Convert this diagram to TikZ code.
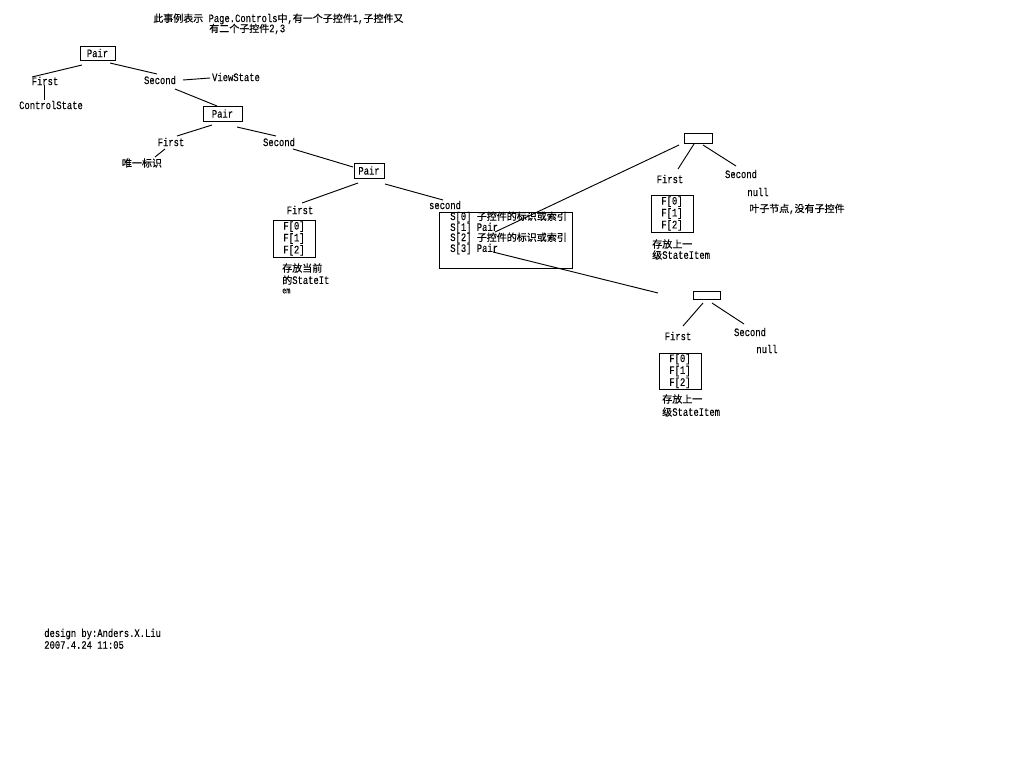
\documentclass[tikz,border=0pt]{standalone}
\usepackage{fontspec}
\newfontfamily\monofnt[FakeStretch=0.78,FakeBold=0.15]{Liberation Mono}
\newfontfamily\cjkfnt[FakeBold=0.3]{Noto Sans CJK SC}
\newcommand\zh[1]{{\cjkfnt\fontsize{7.5}{8}\selectfont #1}}
\begin{document}
\begin{tikzpicture}[x=0.75pt,y=-0.75pt,
  txt/.style={font=\monofnt\fontsize{8.5}{6.75}\selectfont, inner sep=0pt},
  pbox/.style={draw, line width=0.75pt, inner sep=0pt},
  fbox/.style={draw, line width=0.75pt, inner sep=0pt, align=left, minimum width=31.5pt, font=\monofnt\fontsize{8.5}{6.9}\selectfont},
  ln/.style={line width=0.7pt}]
\useasboundingbox[fill=white] (0,0) rectangle (1009,768);

% title
\node[txt,anchor=west] (t1) at (153,19) {\zh{此事例表示} Page.Controls\zh{中},\zh{有一个子控件}1,\zh{子控件又}};
\node[txt,anchor=west] (t2) at (209,29) {\zh{有二个子控件}2,3};

% level 1
\node[pbox,minimum width=26.25pt,minimum height=10.5pt,txt] (p1) at (97.5,53) {Pair};
\node[txt] (f1) at (45,81) {First};
\node[txt] (cs) at (51,105) {ControlState};
\node[txt] (s1) at (160,80) {Second};
\node[txt] (vs) at (236,77) {ViewState};

% level 2
\node[pbox,minimum width=29.25pt,minimum height=11.25pt,txt] (p2) at (222.5,113.5) {Pair};
\node[txt] (f2) at (171,142) {First};
\node[txt] (wy) at (142,163) {\zh{唯一标识}};
\node[txt] (s2) at (279,142) {Second};

% level 3
\node[pbox,minimum width=22.5pt,minimum height=11.25pt,txt] (p3) at (369,170.5) {Pair};
\node[txt] (f3) at (300,210) {First};
\node[fbox,minimum height=27.75pt] (fb3) at (294,238.5) {F[0]\\F[1]\\F[2]};
\node[txt,anchor=west] (c3a) at (282,268) {\zh{存放当前}};
\node[txt,anchor=west] (c3b) at (282,280) {\zh{的}StateIt};
\node[txt,anchor=west,font=\monofnt\fontsize{6.5}{6}\selectfont] (c3c) at (282,291) {em};
\node[txt] (sec3) at (445,205) {second};
\node[draw,line width=0.75pt,minimum width=99.75pt,minimum height=42pt,inner sep=0pt] (sb) at (505.5,240) {};
\node[txt,anchor=west] (sl0) at (450,217) {S[0] \zh{子控件的标识或索引}};
\node[txt,anchor=west] (sl1) at (450,228) {S[1] Pair};
\node[txt,anchor=west] (sl2) at (450,238) {S[2] \zh{子控件的标识或索引}};
\node[txt,anchor=west] (sl3) at (450,249) {S[3] Pair};

% upper right child
\node[pbox,minimum width=21pt,minimum height=7.5pt] (q) at (698,138) {};
\node[txt] (f4) at (670,179) {First};
\node[txt] (s4) at (741,174) {Second};
\node[fbox,minimum height=27.75pt] (fb4) at (672,213.5) {F[0]\\F[1]\\F[2]};
\node[txt,anchor=west] (c4a) at (652,244) {\zh{存放上一}};
\node[txt,anchor=west] (c4b) at (652,255) {\zh{级}StateItem};
\node[txt] (n4) at (758,192) {null};
\node[txt,anchor=west] (leaf) at (749,209) {\zh{叶子节点},\zh{没有子控件}};

% lower right child
\node[pbox,minimum width=20.25pt,minimum height=6pt] (r) at (706.5,295) {};
\node[txt] (f5) at (678,336) {First};
\node[txt] (s5) at (750,332) {Second};
\node[txt] (n5) at (767,349) {null};
\node[fbox,minimum height=27pt] (fb5) at (680,371) {F[0]\\F[1]\\F[2]};
\node[txt,anchor=west] (c5a) at (662,399) {\zh{存放上一}};
\node[txt,anchor=west] (c5b) at (662,412) {\zh{级}StateItem};

% footer
\node[txt,anchor=west] (d1) at (44,634) {design by:Anders.X.Liu};
\node[txt,anchor=west] (d2) at (44,645) {2007.4.24 11:05};

% connectors
\draw[ln] ([shift={(-15.5,12)}]p1.center) -- ([shift={(-13,-4)}]f1.center);
\draw[ln] ([shift={(12.5,10)}]p1.center) -- ([shift={(-3,-6)}]s1.center);
\draw[ln] ([shift={(-1,4)}]f1.center) -- ([shift={(-7,-5)}]cs.center);
\draw[ln] ([shift={(23,0)}]s1.center) -- ([shift={(-26,1)}]vs.center);
\draw[ln] ([shift={(15,9)}]s1.center) -- ([shift={(-5.5,-7.5)}]p2.center);
\draw[ln] ([shift={(-10.5,11.5)}]p2.center) -- ([shift={(6,-6)}]f2.center);
\draw[ln] ([shift={(14.5,13.5)}]p2.center) -- ([shift={(-3,-6)}]s2.center);
\draw[ln] ([shift={(-6,7)}]f2.center) -- ([shift={(13,-6)}]wy.center);
\draw[ln] ([shift={(14,7)}]s2.center) -- ([shift={(-16,-3.5)}]p3.center);
\draw[ln] ([shift={(-11,12.5)}]p3.center) -- ([shift={(2,-7)}]f3.center);
\draw[ln] ([shift={(16,13.5)}]p3.center) -- ([shift={(-2,-5)}]sec3.center);
\draw[ln] ([shift={(45,4)}]sl1.west) -- ([shift={(-19,7)}]q.center);
\draw[ln] ([shift={(43,3)}]sl3.west) -- ([shift={(-48.5,-2)}]r.center);
\draw[ln] ([shift={(-4,6)}]q.center) -- ([shift={(8,-10)}]f4.center);
\draw[ln] ([shift={(5,7)}]q.center) -- ([shift={(-5,-8)}]s4.center);
\draw[ln] ([shift={(-3.5,8)}]r.center) -- ([shift={(5,-10)}]f5.center);
\draw[ln] ([shift={(5.5,8)}]r.center) -- ([shift={(-6,-8)}]s5.center);
\end{tikzpicture}
\end{document}
